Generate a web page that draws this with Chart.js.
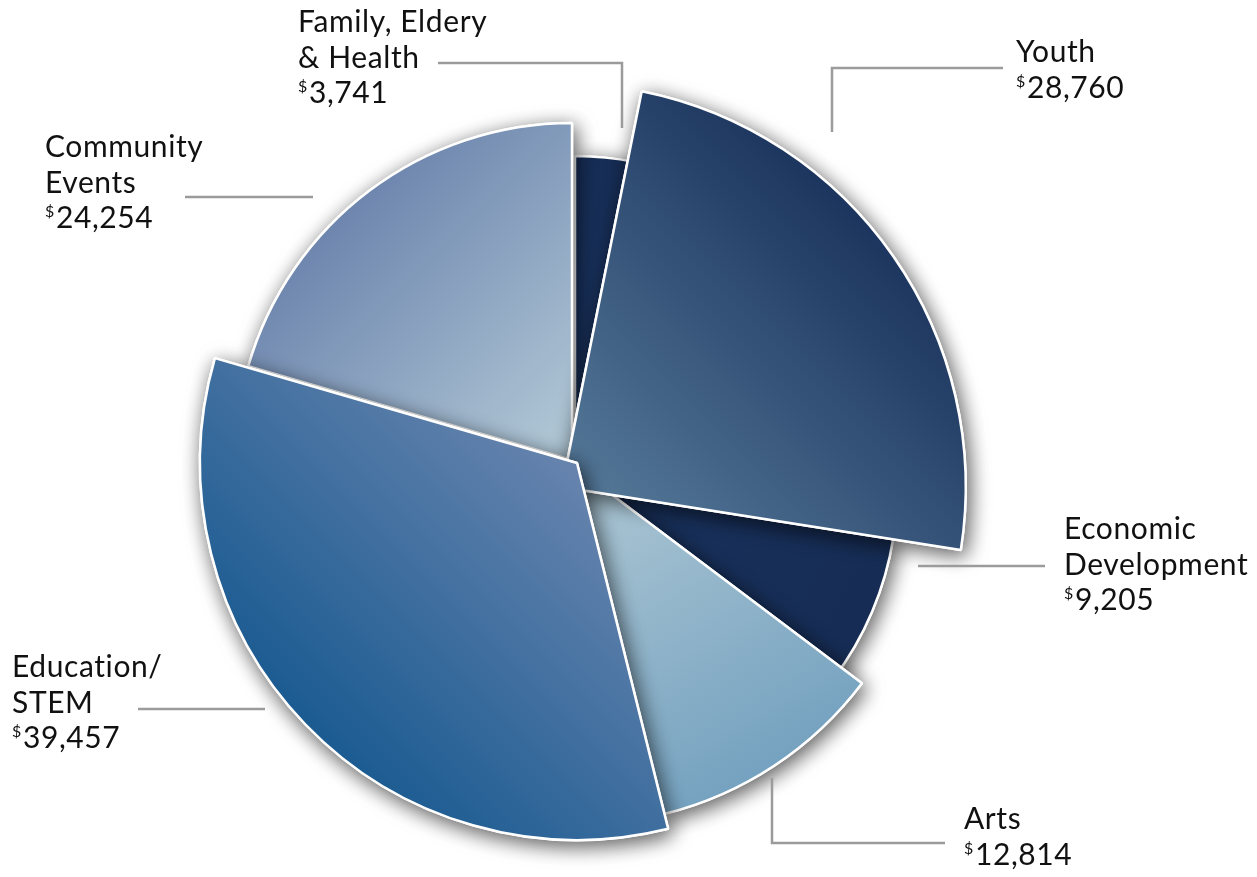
<!DOCTYPE html>
<html>
<head>
<meta charset="utf-8">
<script src="https://cdn.jsdelivr.net/npm/chart.js@4.4.1/dist/chart.umd.min.js"></script>
<style>
  html, body { margin: 0; padding: 0; background: #fff; }
  #wrap { width: 1257px; height: 877px; }
</style>
</head>
<body>
<div id="wrap"><canvas id="chart"></canvas></div>
<script>
// data
let categories = [
  ['Family, Eldery', '& Health'],
  ['Youth'],
  ['Economic', 'Development'],
  ['Arts'],
  ['Education/', 'STEM'],
  ['Community', 'Events']
];
let amounts = [3741, 28760, 9205, 12814, 39457, 24254];

// look of each slice
let radiusFactor = [0.74, 0.98, 0.77, 0.86, 0.915, 0.818];
let shift = [[0, -4], [-13, 22], [5, 23], [4, 5], [2, -2], [-3, -5]];
let drawOrder = [0, 5, 2, 3, 1, 4];
// [colour near centre, colour far out, direction in degrees clockwise from top]
let shades = [
  ['#1c3562', '#162d55', 0],
  ['#567a9a', '#1c355e', 45],
  ['#19325d', '#162c54', 120],
  ['#aec7d4', '#75a2c0', 150],
  ['#6784ae', '#1b5b91', 225],
  ['#b4cbd8', '#6e86ae', 315]
];

// label boxes: text left, first baseline, leader line
let labelSpots = [
  { x: 298, y: 32, path: [[438, 63], [622, 63], [622, 128]] },
  { x: 1016, y: 62, path: [[832, 132], [832, 68], [1003, 68]] },
  { x: 1064, y: 539, path: [[918, 566], [1045, 566]] },
  { x: 964, y: 829, path: [[772, 778], [772, 843], [945, 843]] },
  { x: 12, y: 677, path: [[138, 709], [265, 709]] },
  { x: 45, y: 157, path: [[185, 197], [313, 197]] }
];

let fontName = 'Lato, "Open Sans", sans-serif';

let slicePlugin = {
  id: 'slices',
  afterDatasetsUpdate(chart) {
    let meta = chart.getDatasetMeta(0);
    let base = chart.chartArea.height / 2;
    let ctx = chart.ctx;
    meta.data.forEach((arc, i) => {
      arc.x += shift[i][0];
      arc.y += shift[i][1];
      arc.outerRadius = base * radiusFactor[i];
      let s = shades[i];
      let a = s[2] * Math.PI / 180;
      let g = ctx.createLinearGradient(arc.x, arc.y,
        arc.x + Math.sin(a) * arc.outerRadius, arc.y - Math.cos(a) * arc.outerRadius);
      g.addColorStop(0, s[0]);
      g.addColorStop(1, s[1]);
      arc.options = Object.assign({}, arc.options, { backgroundColor: g });
    });
  },
  beforeDatasetDraw(chart, args) {
    let ctx = chart.ctx;
    let arcs = args.meta.data;
    drawOrder.forEach(i => {
      let arc = arcs[i];
      ctx.save();
      ctx.shadowColor = 'rgba(0,0,0,0.65)';
      ctx.shadowBlur = 20;
      ctx.shadowOffsetX = 3;
      ctx.shadowOffsetY = 5;
      arc.draw(ctx);
      ctx.restore();
      arc.draw(ctx);
    });
    return false;
  },
  afterDraw(chart) {
    let ctx = chart.ctx;
    ctx.save();
    labelSpots.forEach((spot, i) => {
      ctx.strokeStyle = '#9b9b9b';
      ctx.lineWidth = 2.5;
      ctx.beginPath();
      spot.path.forEach((p, k) => k ? ctx.lineTo(p[0], p[1]) : ctx.moveTo(p[0], p[1]));
      ctx.stroke();

      ctx.fillStyle = '#111';
      ctx.textBaseline = 'alphabetic';
      ctx.textAlign = 'left';
      ctx.letterSpacing = '0.6px';
      ctx.font = '30px ' + fontName;
      let lines = categories[i];
      lines.forEach((t, k) => ctx.fillText(t, spot.x, spot.y + k * 35.5));
      let vy = spot.y + lines.length * 35.5;
      ctx.font = '16px ' + fontName;
      ctx.fillText('$', spot.x, vy - 11);
      let w = ctx.measureText('$').width;
      ctx.font = '30px ' + fontName;
      ctx.fillText(amounts[i].toLocaleString('en-US'), spot.x + w + 1, vy);
    });
    ctx.restore();
  }
};

let kanvas = document.getElementById('chart');

let grafik = new Chart(kanvas, {
  type: 'pie',
  data: {
    labels: categories.map(c => c.join(' ')),
    datasets: [{
      data: amounts,
      backgroundColor: shades.map(s => s[1]),
      borderColor: '#ffffff',
      borderWidth: 2.5
    }]
  },
  options: {
    responsive: true,
    maintainAspectRatio: false,
    animation: false,
    events: [],
    layout: { padding: { left: 0, right: 107, top: 53, bottom: 0 } },
    plugins: {
      legend: { display: false },
      tooltip: { enabled: false }
    }
  },
  plugins: [slicePlugin]
});
</script>
</body>
</html>
